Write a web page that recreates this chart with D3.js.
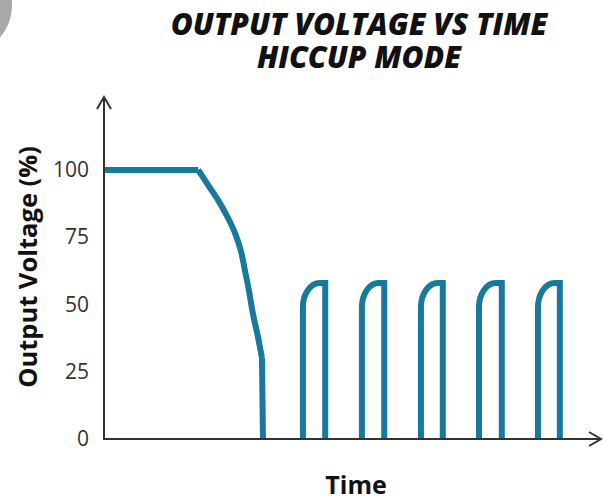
<!DOCTYPE html>
<html>
<head>
<meta charset="utf-8">
<script src="https://cdn.jsdelivr.net/npm/d3@7"></script>
<style>
  html, body { margin: 0; padding: 0; background: #fff; }
  svg { display: block; }
</style>
</head>
<body>
<svg id="chart" width="603" height="499"></svg>
<script>
// ---- data ----
const titleLines = ["OUTPUT VOLTAGE VS TIME", "HICCUP MODE"];
const yLabel = "Output Voltage (%)";
const xLabel = "Time";
const yTicks = [0, 25, 50, 75, 100];

// main fall-off curve (time in arbitrary units, voltage in %)
const faultTime    = [0, 19.0, 21.0, 23.0, 24.8, 26.4, 27.6, 28.4, 29.2, 30.0, 31.0, 31.85, 32.05];
const faultVoltage = [100, 100, 94.4, 88.8, 82.9, 76.6, 69.9, 62.8, 55.4, 46.8, 38.3, 30.1, 0];

// hiccup pulses
const pulseStart = [40.1, 52.0, 63.9, 75.6, 87.5];
const pulseEnd   = [44.6, 56.5, 68.3, 80.2, 91.9];
const pulsePeak  = [58, 58, 58, 58, 58];
const pulseBend  = [49, 49, 49, 49, 49];       // voltage where the rounded rise begins
const pulseRun   = [3.4, 3.4, 3.4, 3.4, 3.4];  // time taken by the rounded corner

// ---- drawing ----
const svg = d3.select("#chart");
const color = "#17799b";
const axisColor = "#333";

// decorative grey circle at the top-left corner
svg.append("circle").attr("cx", -38).attr("cy", 5).attr("r", 50).attr("fill", "#a9a9a9");

const x = d3.scaleLinear().domain([0, 100]).range([104, 600]);
const y = d3.scaleLinear().domain([0, 100]).range([439, 170]);

// title
svg.append("g").selectAll("text").data(titleLines).join("text")
  .attr("x", 359).attr("y", (d, i) => 35 + i * 33)
  .attr("text-anchor", "middle")
  .attr("font-family", "'Open Sans', sans-serif")
  .attr("font-weight", 800).attr("font-style", "italic")
  .attr("font-size", 30).attr("fill", "#111")
  .text(d => d);

// fault curve: flat part, smooth drop, then straight vertical fall
const faultData = faultTime.map((t, i) => [t, faultVoltage[i]]);
const n = faultData.length;
const fp = d3.path();
const lin = d3.line().x(d => x(d[0])).y(d => y(d[1])).context(fp);
const smooth = d3.line().x(d => x(d[0])).y(d => y(d[1])).curve(d3.curveCatmullRom.alpha(0.5)).context(fp);
lin(faultData.slice(0, 2));
smooth(faultData.slice(1, n - 1));
lin(faultData.slice(n - 2));
svg.append("path")
  .attr("d", fp.toString())
  .attr("fill", "none").attr("stroke", color).attr("stroke-width", 6)
  .attr("stroke-linejoin", "round");

// pulses
pulseStart.forEach((s, i) => {
  const e = pulseEnd[i], pk = pulsePeak[i], b = pulseBend[i], r = pulseRun[i];
  const p = d3.path();
  p.moveTo(x(s), y(0));
  p.lineTo(x(s), y(b));
  p.bezierCurveTo(x(s), y(b + (pk - b) * 0.55), x(s + r * 0.45), y(pk), x(s + r), y(pk));
  p.lineTo(x(e), y(pk));
  p.lineTo(x(e), y(0));
  svg.append("path").attr("d", p.toString())
    .attr("fill", "none").attr("stroke", color).attr("stroke-width", 6)
    .attr("stroke-linejoin", "miter");
});

// axes lines
const x0 = x(0), y0 = y(0);
svg.append("line").attr("x1", x0).attr("y1", y0 + 1).attr("x2", x0).attr("y2", 97)
  .attr("stroke", axisColor).attr("stroke-width", 2);
svg.append("line").attr("x1", x0 - 1).attr("y1", y0).attr("x2", 601).attr("y2", y0)
  .attr("stroke", axisColor).attr("stroke-width", 2);
// arrowheads
svg.append("path").attr("d", `M${x0 - 7},${109} L${x0},${97} L${x0 + 7},${109}`)
  .attr("fill", "none").attr("stroke", axisColor).attr("stroke-width", 2);
svg.append("path").attr("d", `M${589},${y0 - 7} L${601},${y0} L${589},${y0 + 7}`)
  .attr("fill", "none").attr("stroke", axisColor).attr("stroke-width", 2);

// y tick labels
const yAxis = svg.append("g").attr("transform", `translate(${x0},0)`)
  .call(d3.axisLeft(y).tickValues(yTicks).tickSize(0).tickPadding(15));
yAxis.select(".domain").remove();
yAxis.selectAll("text")
  .attr("font-family", "'Open Sans', sans-serif")
  .attr("font-size", 21).attr("fill", axisColor);

// axis labels
svg.append("text")
  .attr("transform", "translate(37,267) rotate(-90)")
  .attr("text-anchor", "middle")
  .attr("font-family", "'Open Sans', sans-serif")
  .attr("font-weight", 700).attr("font-size", 25.5).attr("fill", "#111")
  .text(yLabel);
svg.append("text")
  .attr("x", 356).attr("y", 494)
  .attr("text-anchor", "middle")
  .attr("font-family", "'Open Sans', sans-serif")
  .attr("font-weight", 700).attr("font-size", 25).attr("fill", "#111")
  .text(xLabel);
</script>
</body>
</html>
